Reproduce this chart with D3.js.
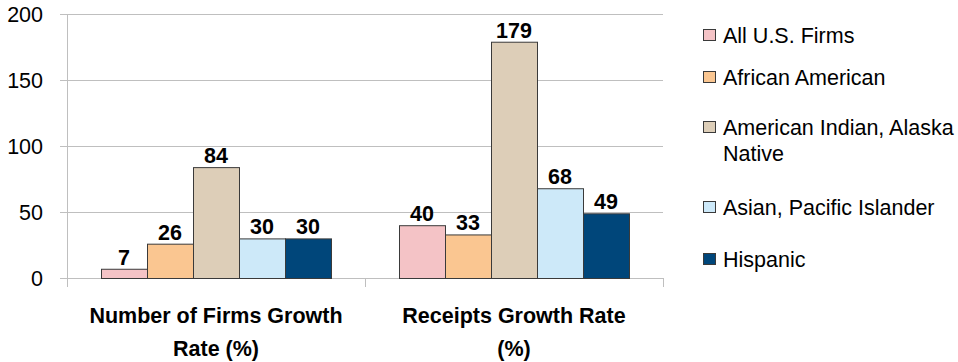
<!DOCTYPE html>
<html>
<head>
<meta charset="utf-8">
<script src="https://cdn.jsdelivr.net/npm/d3@7"></script>
<style>
  html, body { margin: 0; padding: 0; background: #fff; }
  svg { display: block; font-family: "Liberation Sans", Arial, sans-serif; }
</style>
</head>
<body>
<svg id="chart" width="958" height="362"></svg>
<script>
// Growth rates by owner group
const categories = [["Number of Firms Growth", "Rate (%)"], ["Receipts Growth Rate", "(%)"]];
const categoryKeys = ["firms", "receipts"];
const seriesNames = ["All U.S. Firms", "African American", "American Indian, Alaska Native", "Asian, Pacific Islander", "Hispanic"];
const legendLines = [["All U.S. Firms"], ["African American"], ["American Indian, Alaska", "Native"], ["Asian, Pacific Islander"], ["Hispanic"]];
const firmsValues = [7, 26, 84, 30, 30];
const receiptsValues = [40, 33, 179, 68, 49];
const yTicks = [0, 50, 100, 150, 200];
const colors = ["#F4C3C6", "#FAC691", "#DDCEB8", "#CDE9F9", "#00467A"];

const values = { firms: firmsValues, receipts: receiptsValues };
const FS = 21.5;

const svg = d3.select("#chart");
const plot = { left: 67, right: 663, top: 14, bottom: 278 };

const x0 = d3.scaleBand().domain(categoryKeys).range([plot.left, plot.right]).paddingInner(0).paddingOuter(0);
const x1 = d3.scaleBand().domain(d3.range(seriesNames.length)).range([34, x0.bandwidth() - 34]).padding(0);
const y = d3.scaleLinear().domain([0, 200]).range([plot.bottom, plot.top]);

// gridlines
svg.append("g").selectAll("line").data(yTicks).join("line")
  .attr("x1", plot.left - 7).attr("x2", plot.right)
  .attr("y1", d => y(d) + 0.5).attr("y2", d => y(d) + 0.5)
  .attr("stroke", "#BFBFBF").attr("stroke-width", 1);

// y axis line
svg.append("line")
  .attr("x1", plot.left + 0.5).attr("x2", plot.left + 0.5)
  .attr("y1", plot.top).attr("y2", plot.bottom + 9)
  .attr("stroke", "#BFBFBF");

// category separators on x axis
svg.append("g").selectAll("line").data(categoryKeys).join("line")
  .attr("x1", d => x0(d) + x0.bandwidth() + 0.5).attr("x2", d => x0(d) + x0.bandwidth() + 0.5)
  .attr("y1", plot.bottom).attr("y2", plot.bottom + 9)
  .attr("stroke", "#BFBFBF");

// y tick labels
svg.append("g").selectAll("text").data(yTicks).join("text")
  .attr("x", 43).attr("y", d => y(d) + 8)
  .attr("text-anchor", "end")
  .attr("font-size", FS).attr("fill", "#000")
  .text(d => d);

// bars
const groups = svg.append("g").selectAll("g").data(categoryKeys).join("g")
  .attr("transform", d => `translate(${x0(d)},0)`);

groups.selectAll("rect").data(k => values[k].map((v, i) => ({ v, i }))).join("rect")
  .attr("x", d => x1(d.i) + 0.5)
  .attr("y", d => y(d.v) + 0.5)
  .attr("width", x1.bandwidth())
  .attr("height", d => y(0) - y(d.v))
  .attr("fill", d => colors[d.i])
  .attr("stroke", "#3a3a3a").attr("stroke-width", 1);

groups.selectAll("text").data(k => values[k].map((v, i) => ({ v, i }))).join("text")
  .attr("x", d => x1(d.i) + x1.bandwidth() / 2)
  .attr("y", d => y(d.v) - 4)
  .attr("text-anchor", "middle")
  .attr("font-size", FS).attr("font-weight", "bold").attr("fill", "#000")
  .text(d => d.v);

// category labels
categories.forEach((lines, ci) => {
  const cx = x0(categoryKeys[ci]) + x0.bandwidth() / 2;
  lines.forEach((t, li) => {
    svg.append("text")
      .attr("x", cx).attr("y", 323 + li * 33)
      .attr("text-anchor", "middle")
      .attr("font-size", FS).attr("font-weight", "bold").attr("fill", "#000")
      .text(t);
  });
});

// legend
const legendY = [35, 77, 127, 207, 259];
const legend = svg.append("g");
seriesNames.forEach((name, i) => {
  legend.append("rect")
    .attr("x", 703.5).attr("y", legendY[i] - 5.5)
    .attr("width", 12).attr("height", 11)
    .attr("fill", colors[i]).attr("stroke", "#3a3a3a").attr("stroke-width", 1);
  legendLines[i].forEach((t, li) => {
    legend.append("text")
      .attr("x", 723).attr("y", legendY[i] + 7.5 + li * 26)
      .attr("font-size", FS).attr("fill", "#000")
      .text(t);
  });
});
</script>
</body>
</html>
